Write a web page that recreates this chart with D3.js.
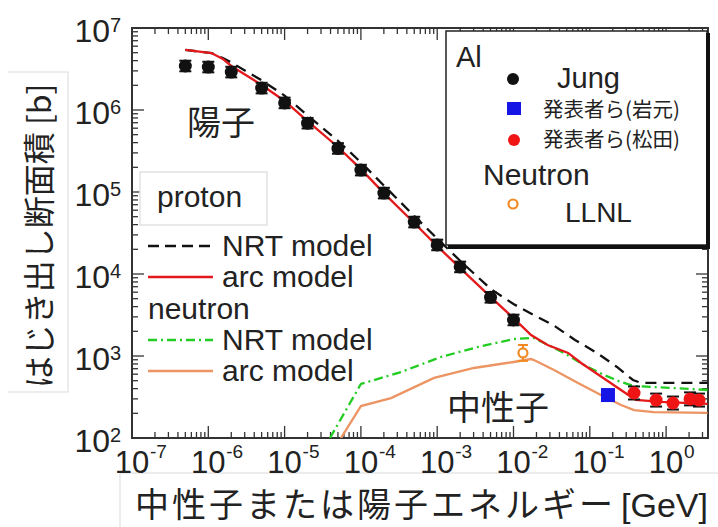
<!DOCTYPE html>
<html>
<head>
<meta charset="utf-8">
<script src="https://cdn.jsdelivr.net/npm/d3@7"></script>
<style>
  body { margin: 0; background: #fff; }
  svg { display: block; }
</style>
</head>
<body>
<div id="vis"></div>
<script>
const FRAME_WIDTH = 718;
const FRAME_HEIGHT = 527;
const PLOT = {left: 132, right: 708, top: 28, bottom: 438};

const LATIN = "'Liberation Sans', Arial, sans-serif";
const CJK = "'Noto Sans CJK JP', 'Noto Sans CJK SC', sans-serif";

// proton, arc model (red)
const protonArcE = [5e-7, 1.1e-6, 1.55e-6, 2e-6, 5e-6, 1e-5, 2e-5, 5e-5, 1e-4, 2e-4, 5e-4, 1e-3,
                    2e-3, 5e-3, 1e-2, 1.7e-2, 2.8e-2, 5.2e-2, 7.7e-2, 0.15, 0.32, 0.4, 0.86, 3.5];
const protonArcS = [5.4e6, 4.95e6, 4.19e6, 3.44e6, 2.02e6, 1.29e6, 7.3e5, 3.54e5, 1.9e5, 9.7e4, 4.19e4, 2.19e4,
                    1.18e4, 5.25e3, 2.9e3, 1.8e3, 1.36e3, 1.09e3, 822, 540, 334, 291, 275, 260];

// proton, NRT model (black dashed)
const protonNrtE = [5e-7, 1.1e-6, 1.55e-6, 2e-6, 5e-6, 1e-5, 2e-5, 5e-5, 1e-4, 2e-4, 5e-4, 1e-3,
                    2e-3, 5e-3, 1e-2, 1.8e-2, 3.3e-2, 6.4e-2, 0.124, 0.227, 0.368, 0.47, 3.5];
const protonNrtS = [5.4e6, 4.95e6, 4.3e6, 3.8e6, 2.3e6, 1.5e6, 8.6e5, 4.2e5, 2.3e5, 1.2e5, 5.1e4, 2.7e4,
                    1.45e4, 6.6e3, 4.3e3, 3.2e3, 2.39e3, 1.57e3, 1.09e3, 735, 510, 469, 469];

// neutron, NRT model (green dash-dot)
const neutronNrtE = [3.94e-5, 1e-4, 3.36e-4, 1.12e-3, 3.43e-3, 1e-2, 1.86e-2, 4.6e-2, 8.4e-2, 0.153, 0.257, 0.38, 0.69, 3.5];
const neutronNrtS = [100, 456, 638, 973, 1290, 1610, 1660, 1090, 776, 587, 482, 431, 419, 385];

// neutron, arc model (orange)
const neutronArcE = [5.48e-5, 1e-4, 2.48e-4, 9.1e-4, 3.03e-3, 1e-2, 1.7e-2, 1.97e-2, 3.4e-2, 7e-2, 0.14, 0.257, 0.38, 0.69, 3.5];
const neutronArcS = [100, 245, 307, 540, 714, 845, 919, 869, 675, 469, 334, 253, 219, 207, 202];

// measured points
const jungE = [5e-7, 1e-6, 2e-6, 5e-6, 1e-5, 2e-5, 5e-5, 1e-4, 2e-4, 5e-4, 1e-3, 2e-3, 5e-3, 1e-2];
const jungS = [3.44e6, 3.34e6, 2.9e6, 1.85e6, 1.22e6, 6.9e5, 3.4e5, 1.85e5, 9.7e4, 4.3e4, 2.26e4, 1.22e4, 5.2e3, 2.75e3];
const matsudaE = [0.38, 0.74, 1.23, 2.06, 2.7];
const matsudaS = [354, 290, 267, 300, 290];
const iwamotoE = [0.173];
const iwamotoS = [334];
const llnlE = [0.0133];
const llnlS = [1090];

const xTickExps = [-7, -6, -5, -4, -3, -2, -1, 0];
const yTickExps = [2, 3, 4, 5, 6, 7];

const svg = d3.select("#vis").append("svg")
  .attr("width", FRAME_WIDTH)
  .attr("height", FRAME_HEIGHT);

const X_SCALE = d3.scaleLog()
  .domain([1e-7, Math.pow(10, (PLOT.right - PLOT.left) / 76.3 - 7)])
  .range([PLOT.left, PLOT.right]);
const Y_SCALE = d3.scaleLog()
  .domain([1e2, 1e7])
  .range([PLOT.bottom, PLOT.top]);

// faint text-box outlines around the axis titles
svg.append("path")
  .attr("d", "M8,72H68V392H8")
  .attr("fill", "none").attr("stroke", "#e6e6e6").attr("stroke-width", 1.5);
svg.append("path")
  .attr("d", "M120,527V473H718")
  .attr("fill", "none").attr("stroke", "#e6e6e6").attr("stroke-width", 1.5);

svg.append("clipPath").attr("id", "clip")
  .append("rect")
  .attr("x", PLOT.left).attr("y", PLOT.top)
  .attr("width", PLOT.right - PLOT.left).attr("height", PLOT.bottom - PLOT.top);

// ticks on all four sides, pointing inward
const isMajor = (v) => Math.abs(Math.log10(v) - Math.round(Math.log10(v))) < 1e-6;
const xTicks = X_SCALE.ticks();
const yTicks = Y_SCALE.ticks();
const tickG = svg.append("g").attr("stroke", "#333").attr("stroke-width", 1.3);

tickG.selectAll(".xb").data(xTicks).enter().append("line")
  .attr("x1", (d) => X_SCALE(d)).attr("x2", (d) => X_SCALE(d))
  .attr("y1", PLOT.bottom).attr("y2", (d) => PLOT.bottom - (isMajor(d) ? 12 : 6));
tickG.selectAll(".xt").data(xTicks).enter().append("line")
  .attr("x1", (d) => X_SCALE(d)).attr("x2", (d) => X_SCALE(d))
  .attr("y1", PLOT.top).attr("y2", (d) => PLOT.top + (isMajor(d) ? 12 : 6));
tickG.selectAll(".yl").data(yTicks).enter().append("line")
  .attr("y1", (d) => Y_SCALE(d)).attr("y2", (d) => Y_SCALE(d))
  .attr("x1", PLOT.left).attr("x2", (d) => PLOT.left + (isMajor(d) ? 12 : 6));
tickG.selectAll(".yr").data(yTicks).enter().append("line")
  .attr("y1", (d) => Y_SCALE(d)).attr("y2", (d) => Y_SCALE(d))
  .attr("x1", PLOT.right).attr("x2", (d) => PLOT.right - (isMajor(d) ? 12 : 6));

svg.append("rect")
  .attr("x", PLOT.left).attr("y", PLOT.top)
  .attr("width", PLOT.right - PLOT.left).attr("height", PLOT.bottom - PLOT.top)
  .attr("fill", "none").attr("stroke", "#333").attr("stroke-width", 2);

// tick labels 10^n
xTickExps.forEach((e) => {
  const x = X_SCALE(Math.pow(10, e));
  svg.append("text").attr("x", x).attr("y", PLOT.bottom + 35)
    .attr("text-anchor", "middle").attr("font-family", LATIN).attr("font-size", 31)
    .attr("fill", "#222").text("10");
  svg.append("text").attr("x", x + 18).attr("y", PLOT.bottom + 20)
    .attr("font-family", LATIN).attr("font-size", 19)
    .attr("fill", "#222").text(e < 0 ? "-" + (-e) : String(e));
});
yTickExps.forEach((e) => {
  const y = Y_SCALE(Math.pow(10, e));
  svg.append("text").attr("x", 110).attr("y", y + 14)
    .attr("text-anchor", "end").attr("font-family", LATIN).attr("font-size", 32)
    .attr("fill", "#222").text("10");
  svg.append("text").attr("x", 110).attr("y", y + 4)
    .attr("font-family", LATIN).attr("font-size", 20)
    .attr("fill", "#222").text(String(e));
});

// axis titles
svg.append("text")
  .attr("transform", "translate(51,236) rotate(-90)")
  .attr("text-anchor", "middle").attr("font-family", CJK).attr("font-size", 32)
  .attr("fill", "#222").text("はじき出し断面積 [b]");
svg.append("text")
  .attr("x", 135).attr("y", 517)
  .attr("font-family", CJK).attr("font-size", 34)
  .attr("textLength", 478).attr("lengthAdjust", "spacing")
  .attr("fill", "#222").text("中性子または陽子エネルギー");
svg.append("text")
  .attr("x", 708).attr("y", 517).attr("text-anchor", "end")
  .attr("font-family", LATIN).attr("font-size", 34)
  .attr("fill", "#222").text("[GeV]");

// curves
const plotG = svg.append("g").attr("clip-path", "url(#clip)");
const line = d3.line().x((d) => X_SCALE(d[0])).y((d) => Y_SCALE(d[1]));
const zip = (a, b) => a.map((v, i) => [v, b[i]]);

const curves = [
  {e: neutronArcE, s: neutronArcS, color: "#ec9563", dash: null},
  {e: neutronNrtE, s: neutronNrtS, color: "#22cc22", dash: "9,4,2,4"},
  {e: protonNrtE, s: protonNrtS, color: "#111", dash: "11,7"},
  {e: protonArcE, s: protonArcS, color: "#e3191c", dash: null}
];
curves.forEach((c) => {
  plotG.append("path")
    .attr("d", line(zip(c.e, c.s)))
    .attr("fill", "none").attr("stroke", c.color).attr("stroke-width", 2.3)
    .attr("stroke-dasharray", c.dash);
});

// error bars
function errorBars(es, ss, frac, color, cap) {
  const pts = zip(es, ss);
  const g = plotG.append("g").attr("stroke", color).attr("stroke-width", 2);
  g.selectAll("line.v").data(pts).enter().append("line")
    .attr("x1", (d) => X_SCALE(d[0])).attr("x2", (d) => X_SCALE(d[0]))
    .attr("y1", (d) => Y_SCALE(d[1] * (1 + frac))).attr("y2", (d) => Y_SCALE(d[1] / (1 + frac)));
  [1 + frac, 1 / (1 + frac)].forEach((f) => {
    g.selectAll(null).data(pts).enter().append("line")
      .attr("x1", (d) => X_SCALE(d[0]) - cap).attr("x2", (d) => X_SCALE(d[0]) + cap)
      .attr("y1", (d) => Y_SCALE(d[1] * f)).attr("y2", (d) => Y_SCALE(d[1] * f));
  });
}

errorBars(jungE, jungS, 0.16, "#111", 6);
plotG.selectAll(".jung").data(zip(jungE, jungS)).enter().append("circle")
  .attr("cx", (d) => X_SCALE(d[0])).attr("cy", (d) => Y_SCALE(d[1]))
  .attr("r", 6.5).attr("fill", "#111");

errorBars(matsudaE, matsudaS, 0.2, "#111", 6);
plotG.selectAll(".mat").data(zip(matsudaE, matsudaS)).enter().append("circle")
  .attr("cx", (d) => X_SCALE(d[0])).attr("cy", (d) => Y_SCALE(d[1]))
  .attr("r", 6.5).attr("fill", "#f01515");

plotG.selectAll(".iwa").data(zip(iwamotoE, iwamotoS)).enter().append("rect")
  .attr("x", (d) => X_SCALE(d[0]) - 7).attr("y", (d) => Y_SCALE(d[1]) - 7)
  .attr("width", 14).attr("height", 14).attr("fill", "#1515e6");

errorBars(llnlE, llnlS, 0.25, "#f08a24", 5);
plotG.selectAll(".llnl").data(zip(llnlE, llnlS)).enter().append("circle")
  .attr("cx", (d) => X_SCALE(d[0])).attr("cy", (d) => Y_SCALE(d[1]))
  .attr("r", 4.5).attr("fill", "#fff").attr("stroke", "#f08a24").attr("stroke-width", 2.2);

// annotations inside the plot
svg.append("text").attr("x", 187).attr("y", 135)
  .attr("font-family", CJK).attr("font-size", 34).attr("fill", "#222").text("陽子");
svg.append("text").attr("x", 447).attr("y", 420)
  .attr("font-family", CJK).attr("font-size", 34).attr("fill", "#222").text("中性子");

// left legend
svg.append("rect").attr("x", 140).attr("y", 172).attr("width", 127).attr("height", 53)
  .attr("fill", "#fff").attr("stroke", "#e2e2e2").attr("stroke-width", 1.5);
svg.append("text").attr("x", 157).attr("y", 207)
  .attr("font-family", LATIN).attr("font-size", 30).attr("fill", "#222").text("proton");

const leftLegend = [
  {label: "NRT model", y: 256, color: "#111", dash: "11,6", line: true},
  {label: "arc model", y: 287, color: "#e3191c", dash: null, line: true},
  {label: "neutron", y: 319, line: false},
  {label: "NRT model", y: 350, color: "#22cc22", dash: "9,4,2,4", line: true},
  {label: "arc model", y: 381, color: "#ec9563", dash: null, line: true}
];
leftLegend.forEach((d) => {
  if (d.line) {
    svg.append("line").attr("x1", 148).attr("x2", 213).attr("y1", d.y - 10).attr("y2", d.y - 10)
      .attr("stroke", d.color).attr("stroke-width", 2.4).attr("stroke-dasharray", d.dash);
  }
  svg.append("text").attr("x", d.line ? 222 : 148).attr("y", d.y)
    .attr("font-family", LATIN).attr("font-size", 30).attr("fill", "#222").text(d.label);
});

// right legend
svg.append("rect").attr("x", 446).attr("y", 31).attr("width", 261).attr("height", 214)
  .attr("fill", "#fff").attr("stroke", "#222").attr("stroke-width", 1.5);
svg.append("path").attr("d", "M708,33V247H448")
  .attr("fill", "none").attr("stroke", "#111").attr("stroke-width", 4);

svg.append("text").attr("x", 456).attr("y", 67)
  .attr("font-family", LATIN).attr("font-size", 29).attr("fill", "#222").text("Al");
svg.append("circle").attr("cx", 513).attr("cy", 79).attr("r", 6).attr("fill", "#111");
svg.append("text").attr("x", 557).attr("y", 88)
  .attr("font-family", LATIN).attr("font-size", 29).attr("fill", "#222").text("Jung");
svg.append("rect").attr("x", 507).attr("y", 102).attr("width", 14).attr("height", 13).attr("fill", "#1515e6");
svg.append("text").attr("x", 543).attr("y", 117)
  .attr("font-family", CJK).attr("font-size", 20.5).attr("fill", "#222").text("発表者ら(岩元)");
svg.append("circle").attr("cx", 514).attr("cy", 140).attr("r", 6).attr("fill", "#f01515");
svg.append("text").attr("x", 543).attr("y", 147)
  .attr("font-family", CJK).attr("font-size", 20.5).attr("fill", "#222").text("発表者ら(松田)");
svg.append("text").attr("x", 483).attr("y", 185)
  .attr("font-family", LATIN).attr("font-size", 30).attr("fill", "#222").text("Neutron");
svg.append("circle").attr("cx", 513).attr("cy", 204).attr("r", 4.5)
  .attr("fill", "#fff").attr("stroke", "#f08a24").attr("stroke-width", 2.2);
svg.append("text").attr("x", 565).attr("y", 222)
  .attr("font-family", LATIN).attr("font-size", 28).attr("fill", "#222").text("LLNL");
</script>
</body>
</html>
